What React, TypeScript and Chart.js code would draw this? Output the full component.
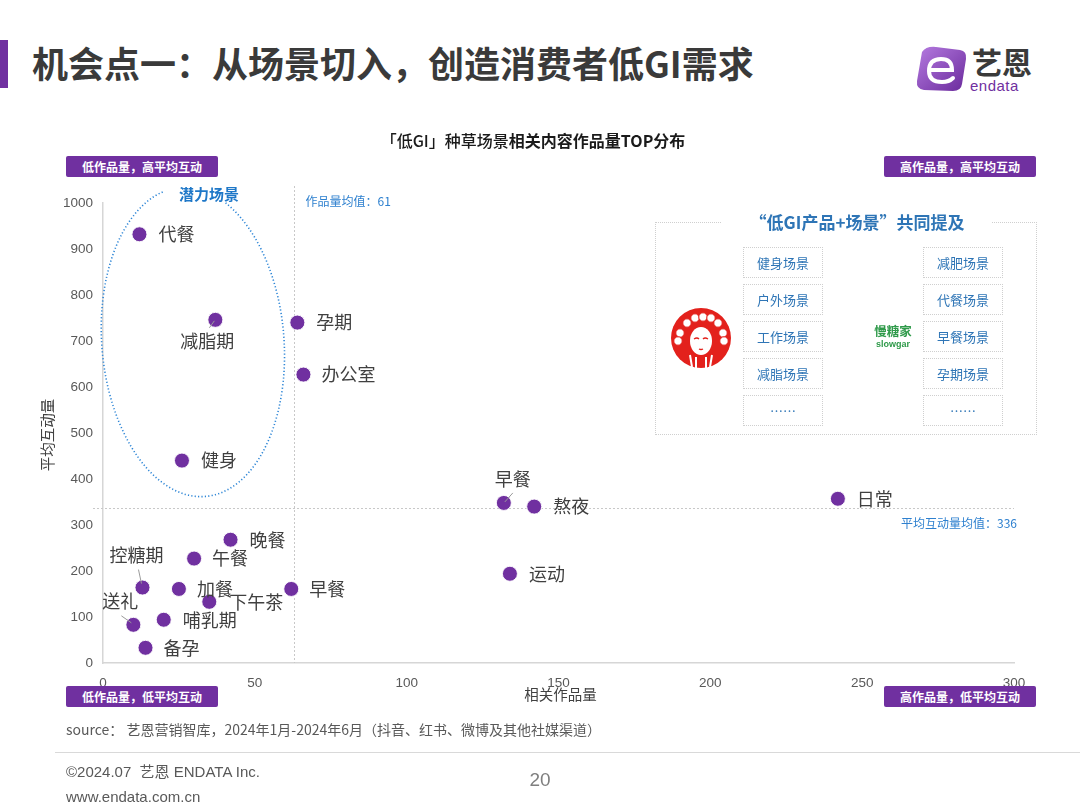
import React, { useEffect, useRef } from 'react';
import { Chart, registerables } from 'chart.js';

Chart.register(...registerables);

// ---------------- data ----------------
const SCENES = ['代餐', '减脂期', '孕期', '办公室', '健身', '早餐', '熬夜', '日常', '运动', '晚餐', '午餐', '控糖期', '加餐', '早餐', '下午茶', '送礼', '哺乳期', '备孕'];
const WORKS = [12, 37, 64, 66, 26, 132, 142, 242, 134, 42, 30, 13, 25, 62, 35, 10, 20, 14];
const ENGAGEMENT = [932, 746, 740, 627, 440, 348, 340, 357, 194, 268, 227, 164, 161, 161, 133, 83, 94, 33];
const X_TICKS = [0, 50, 100, 150, 200, 250, 300];
const Y_TICKS = [0, 100, 200, 300, 400, 500, 600, 700, 800, 900, 1000];
const MEAN_WORKS_TEXT = 61;
const MEAN_WORKS_LINE = 63;
const MEAN_ENGAGEMENT = 336;
const BRAND_A_SCENES = ['健身场景', '户外场景', '工作场景', '减脂场景', '……'];
const BRAND_B_SCENES = ['减肥场景', '代餐场景', '早餐场景', '孕期场景', '……'];

// label placement (pixels from the dot): dx, dy, align, optional leader [x1,y1,x2,y2]
type Lay = { dx: number; dy: number; align: CanvasTextAlign; leader?: number[] };
const LABEL_LAYOUT: Lay[] = [
  { dx: 19, dy: 0, align: 'left' },
  { dx: -8, dy: 21, align: 'center', leader: [-1, 1, -6, 8] },
  { dx: 19, dy: 0, align: 'left' },
  { dx: 18, dy: 0, align: 'left' },
  { dx: 19, dy: 0, align: 'left' },
  { dx: 9, dy: -24, align: 'center', leader: [1, -1, 9, -10] },
  { dx: 19, dy: 0, align: 'left' },
  { dx: 19, dy: 0, align: 'left' },
  { dx: 19, dy: 0, align: 'left' },
  { dx: 19, dy: 0, align: 'left' },
  { dx: 18, dy: 0, align: 'left' },
  { dx: -6, dy: -32, align: 'center', leader: [-1, -4, -4, -18] },
  { dx: 18, dy: 0, align: 'left' },
  { dx: 18, dy: 0, align: 'left' },
  { dx: 20, dy: 0, align: 'left' },
  { dx: -13, dy: -24, align: 'center', leader: [-2, -2, -12, -9] },
  { dx: 19, dy: 0, align: 'left' },
  { dx: 18, dy: 0, align: 'left' },
];

const FONT_CJK = '"Noto Sans CJK SC", "Noto Sans", sans-serif';
const FONT_NUM = '"Liberation Sans", Arial, sans-serif';
const PURPLE = '#7030A0';
const BLUE = '#2E80CF';

const annotPlugin = {
  id: 'annot',
  beforeDatasetsDraw(chart: any) {
    const { ctx, chartArea, scales } = chart;
    const x = scales.x;
    const y = scales.y;
    ctx.save();
    // mean lines
    ctx.strokeStyle = '#C8C8C8';
    ctx.lineWidth = 1;
    ctx.setLineDash([2, 2]);
    const mx = Math.round(x.getPixelForValue(MEAN_WORKS_LINE)) + 0.5;
    ctx.beginPath();
    ctx.moveTo(mx, chartArea.top - 17);
    ctx.lineTo(mx, chartArea.bottom);
    ctx.stroke();
    const my = Math.round(y.getPixelForValue(MEAN_ENGAGEMENT)) + 0.5;
    ctx.beginPath();
    ctx.moveTo(chartArea.left - 10, my);
    ctx.lineTo(chartArea.right, my);
    ctx.stroke();
    ctx.setLineDash([]);
    ctx.fillStyle = BLUE;
    ctx.font = `12px ${FONT_CJK}`;
    ctx.textBaseline = 'middle';
    ctx.textAlign = 'left';
    ctx.fillText(`作品量均值：${MEAN_WORKS_TEXT}`, mx + 11, chartArea.top - 2);
    ctx.textAlign = 'right';
    ctx.fillText(`平均互动量均值：${MEAN_ENGAGEMENT}`, chartArea.right + 3, my + 15);

    // potential-scene ellipse
    const cx = x.getPixelForValue(29.6);
    const cy = y.getPixelForValue(698);
    const rx = x.getPixelForValue(30) - x.getPixelForValue(0);
    const ry = y.getPixelForValue(0) - y.getPixelForValue(337);
    ctx.strokeStyle = '#2E86D6';
    ctx.lineWidth = 1.6;
    ctx.setLineDash([1.2, 2.2]);
    ctx.beginPath();
    ctx.ellipse(cx, cy, rx, ry, -0.08, -Math.PI / 2 + 0.5, (3 * Math.PI) / 2 - 0.19);
    ctx.stroke();
    ctx.setLineDash([]);
    ctx.fillStyle = '#1F78C8';
    ctx.font = `bold 15px ${FONT_CJK}`;
    ctx.textAlign = 'center';
    ctx.fillText('潜力场景', cx + 16, cy - ry + 7);

    // axis titles
    ctx.fillStyle = '#404040';
    ctx.font = `14.5px ${FONT_CJK}`;
    ctx.textAlign = 'center';
    ctx.fillText('相关作品量', (chartArea.left + chartArea.right) / 2 + 2, chartArea.bottom + 31);
    ctx.save();
    ctx.translate(47, (chartArea.top + chartArea.bottom) / 2 + 2);
    ctx.rotate(-Math.PI / 2);
    ctx.fillText('平均互动量', 0, 0);
    ctx.restore();
    ctx.restore();
  },
  afterDatasetsDraw(chart: any) {
    const { ctx } = chart;
    const meta = chart.getDatasetMeta(0);
    ctx.save();
    ctx.font = `18px ${FONT_CJK}`;
    ctx.textBaseline = 'middle';
    meta.data.forEach((pt: any, i: number) => {
      const lay = LABEL_LAYOUT[i];
      if (lay.leader) {
        const [a, b, c, d] = lay.leader;
        ctx.strokeStyle = '#9A9A9A';
        ctx.lineWidth = 1;
        ctx.beginPath();
        ctx.moveTo(pt.x + a, pt.y + b);
        ctx.lineTo(pt.x + c, pt.y + d);
        ctx.stroke();
      }
      ctx.fillStyle = '#404040';
      ctx.textAlign = lay.align;
      ctx.fillText(SCENES[i], pt.x + lay.dx, pt.y + lay.dy);
    });
    ctx.restore();
  },
};

function Badge({ left, top, text }: { left: number; top: number; text: string }) {
  return (
    <div
      style={{
        position: 'absolute', left, top, width: 152, height: 21, background: PURPLE, color: '#fff',
        fontSize: 12, fontWeight: 700, lineHeight: '21px', textAlign: 'center', borderRadius: 2,
      }}
    >
      {text}
    </div>
  );
}

function SceneBox({ left, top, text }: { left: number; top: number; text: string }) {
  return (
    <div
      style={{
        position: 'absolute', left, top, width: 80, height: 31, border: '1px dotted #CFCFCF',
        boxSizing: 'border-box', color: '#2E75B6', fontSize: 13, lineHeight: '29px', textAlign: 'center',
      }}
    >
      {text}
    </div>
  );
}

export default function App() {
  const ref = useRef<HTMLCanvasElement | null>(null);

  useEffect(() => {
    if (!ref.current) return;
    const chart = new Chart(ref.current, {
      type: 'scatter',
      data: {
        datasets: [
          {
            data: WORKS.map((w, i) => ({ x: w, y: ENGAGEMENT[i] })),
            pointRadius: 7.5,
            pointBackgroundColor: PURPLE,
            pointBorderColor: 'rgba(255,255,255,0.9)',
            pointBorderWidth: 1,
            pointHoverRadius: 7.5,
          },
        ],
      },
      options: {
        responsive: false,
        animation: false,
        devicePixelRatio: 1,
        events: [],
        layout: { padding: { top: 203, right: 66, left: 0, bottom: 0 } },
        plugins: { legend: { display: false }, tooltip: { enabled: false } },
        scales: {
          x: {
            type: 'linear',
            min: 0,
            max: 300,
            afterBuildTicks: (s: any) => { s.ticks = X_TICKS.map((v) => ({ value: v })); },
            ticks: {
              color: '#595959', font: { family: FONT_NUM, size: 13.5 }, padding: 12, maxRotation: 0, autoSkip: false,
              callback: (v: any) => String(v),
            },
            grid: { display: false, drawTicks: false },
            border: { display: true, color: '#D6D6D6', width: 1.5 },
            afterFit: (s: any) => { s.height = 147; },
          },
          y: {
            type: 'linear',
            min: 0,
            max: 1000,
            afterBuildTicks: (s: any) => { s.ticks = Y_TICKS.map((v) => ({ value: v })); },
            ticks: {
              color: '#595959', font: { family: FONT_NUM, size: 13.5 }, padding: 10, autoSkip: false,
              callback: (v: any) => String(v),
            },
            grid: { display: false, drawTicks: false },
            border: { display: true, color: '#D6D6D6', width: 1.5 },
            afterFit: (s: any) => { s.width = 103; },
          },
        },
      },
      plugins: [annotPlugin],
    } as any);
    return () => chart.destroy();
  }, []);

  const rowTops = [247, 284, 321, 358, 395];

  return (
    <div
      style={{
        position: 'absolute', left: 0, top: 0, width: 1080, height: 810, background: '#fff', overflow: 'hidden',
        fontFamily: FONT_CJK,
      }}
    >
      {/* header */}
      <div style={{ position: 'absolute', left: 0, top: 40, width: 8, height: 48, background: PURPLE }} />
      <div
        style={{
          position: 'absolute', left: 32, top: 38, fontSize: 36, fontWeight: 700, color: '#3A3A3A',
          lineHeight: '48px', whiteSpace: 'nowrap',
        }}
      >
        机会点一：从场景切入，创造消费者低GI需求
      </div>
      {/* logo */}
      <svg style={{ position: 'absolute', left: 912, top: 44 }} width={58} height={50} viewBox="0 0 58 50">
        <defs>
          <linearGradient id="lg" x1="0" y1="0" x2="1" y2="1">
            <stop offset="0" stopColor="#B57BE0" />
            <stop offset="1" stopColor="#6A2A9C" />
          </linearGradient>
        </defs>
        <path d="M10 8 Q14 2 24 3 L48 6 Q55 7 54 15 L50 40 Q49 47 41 47 L12 46 Q4 45 5 37 Z" fill="url(#lg)" />
        <path d="M18 26 L40 26 Q40 15 29 15 Q17 15 17 27 Q17 38 30 38 Q37 38 41 34" fill="none" stroke="#fff" strokeWidth={4} strokeLinecap="round" />
      </svg>
      <div style={{ position: 'absolute', left: 972, top: 42, fontSize: 30, fontWeight: 700, color: '#3A3A3A', lineHeight: '38px' }}>艺恩</div>
      <div style={{ position: 'absolute', left: 970, top: 78, fontSize: 15, color: PURPLE, lineHeight: '16px', fontFamily: FONT_NUM, letterSpacing: 0.5 }}>endata</div>

      <canvas ref={ref} width={1080} height={810} style={{ position: 'absolute', left: 0, top: 0, width: 1080, height: 810 }} />

      {/* chart title */}
      <div style={{ position: 'absolute', left: 0, top: 128, width: 1066, textAlign: 'center', fontSize: 16, color: '#1A1A1A', lineHeight: '24px' }}>
        <span style={{ fontWeight: 500 }}>「低GI」种草场景</span>
        <span style={{ fontWeight: 700 }}>相关内容作品量TOP分布</span>
      </div>

      {/* quadrant badges */}
      <Badge left={66} top={156} text="低作品量，高平均互动" />
      <Badge left={884} top={156} text="高作品量，高平均互动" />
      <Badge left={66} top={686} text="低作品量，低平均互动" />
      <Badge left={884} top={686} text="高作品量，低平均互动" />

      {/* co-mention box */}
      <div style={{ position: 'absolute', left: 655, top: 222, width: 382, height: 213, border: '1px dotted #CFCFCF', boxSizing: 'border-box' }} />
      <div
        style={{
          position: 'absolute', left: 722, top: 209, width: 270, textAlign: 'center', background: '#fff',
          color: '#2E75B6', fontSize: 17, fontWeight: 700, lineHeight: '26px',
        }}
      >
        “低GI产品+场景”共同提及
      </div>
      {BRAND_A_SCENES.map((s, i) => (
        <SceneBox key={'a' + i} left={743} top={rowTops[i]} text={s} />
      ))}
      {BRAND_B_SCENES.map((s, i) => (
        <SceneBox key={'b' + i} left={923} top={rowTops[i]} text={s} />
      ))}
      <svg style={{ position: 'absolute', left: 670, top: 307 }} width={62} height={62} viewBox="0 0 62 62">
        <circle cx={31} cy={31} r={30} fill="#E3211C" />
        {[10, 17, 25, 33, 41, 48, 53, 8, 54].map((cx, i) => (
          <circle key={i} cx={cx} cy={i < 7 ? [26, 16, 11, 10, 11, 16, 26][i] : 34} r={4.2} fill="#fff" stroke="#E3211C" strokeWidth={1} />
        ))}
        <ellipse cx={31} cy={34} rx={11} ry={14} fill="#fff" />
        <path d="M24 32 Q27 30 29 32 M33 32 Q35 30 38 32 M29 42 Q31 43 33 42" stroke="#E3211C" strokeWidth={1.3} fill="none" />
        <path d="M20 48 L22 60 M42 48 L40 60 M26 50 L26 61 M36 50 L36 61" stroke="#fff" strokeWidth={2} />
      </svg>
      <div style={{ position: 'absolute', left: 868, top: 324, width: 50, textAlign: 'center', color: '#2F9A4A', fontSize: 12.5, fontWeight: 700, lineHeight: '14px' }}>慢糖家</div>
      <div style={{ position: 'absolute', left: 868, top: 339, width: 50, textAlign: 'center', color: '#2F9A4A', fontSize: 9, fontWeight: 700, lineHeight: '10px', fontFamily: FONT_NUM }}>slowgar</div>

      {/* footer */}
      <div style={{ position: 'absolute', left: 66, top: 719, fontSize: 14, color: '#595959', lineHeight: '20px', whiteSpace: 'nowrap' }}>
        source： 艺恩营销智库，2024年1月-2024年6月（抖音、红书、微博及其他社媒渠道）
      </div>
      <div style={{ position: 'absolute', left: 55, top: 752, width: 1025, height: 1, background: '#D9D9D9' }} />
      <div style={{ position: 'absolute', left: 66, top: 762, fontSize: 15, color: '#595959', lineHeight: '20px', whiteSpace: 'nowrap', fontFamily: `${FONT_NUM.split(',')[0]}, ${FONT_CJK}` }}>
        ©2024.07&nbsp;&nbsp;艺恩 ENDATA Inc.
      </div>
      <div style={{ position: 'absolute', left: 66, top: 787, fontSize: 15, color: '#595959', lineHeight: '20px', fontFamily: FONT_NUM }}>
        www.endata.com.cn
      </div>
      <div style={{ position: 'absolute', left: 520, top: 768, width: 40, textAlign: 'center', fontSize: 19, color: '#7F7F7F', lineHeight: '24px', fontFamily: FONT_NUM }}>
        20
      </div>
    </div>
  );
}
